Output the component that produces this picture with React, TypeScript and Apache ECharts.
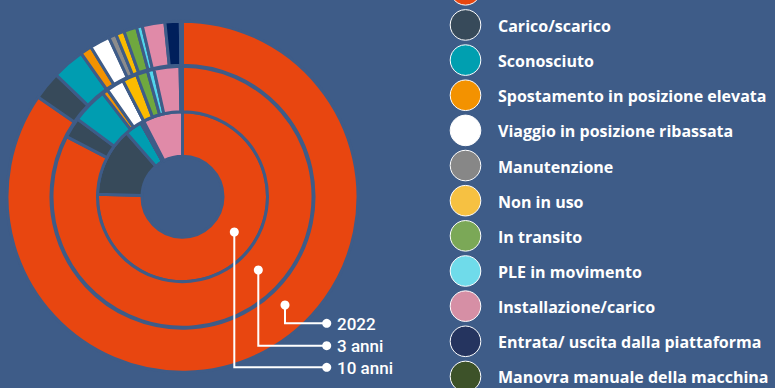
import React, { useEffect, useRef } from "react";
import * as echarts from "echarts";

const categories = [
  "Lavoro in quota",
  "Carico/scarico",
  "Sconosciuto",
  "Spostamento in posizione elevata",
  "Viaggio in posizione ribassata",
  "Manutenzione",
  "Non in uso",
  "In transito",
  "PLE in movimento",
  "Installazione/carico",
  "Entrata/ uscita dalla piattaforma",
  "Manovra manuale della macchina",
];

// percentages per ring
const values10anni = [75, 13, 3.3, 0, 0, 0, 0, 0.6, 0, 7.5, 0, 0];
const values3anni = [82.2, 2.5, 4.4, 0.7, 2.2, 0, 1.8, 1.4, 0.8, 3.2, 0.3, 0];
const values2022 = [84.6, 2.6, 3.0, 1.05, 1.85, 0.7, 0.78, 1.2, 0.53, 2.08, 1.4, 0.2];

const ringLabels = ["2022", "3 anni", "10 anni"];

const sliceColors = [
  "#e84610", "#374a5a", "#009db1", "#f39200", "#ffffff", "#8c8c8c",
  "#fbbb00", "#6fa83f", "#52d6ec", "#e08aa8", "#001f5b", "#3d5229",
];
const legendColors = [
  "#e84610", "#374a5a", "#009fb0", "#f39200", "#ffffff", "#878787",
  "#f6c142", "#7ba857", "#6fdbea", "#d68fa5", "#25345f", "#3d5229",
];

const BG = "#3e5c88";

export default function App() {
  const ref = useRef<HTMLDivElement>(null);
  useEffect(() => {
    if (!ref.current) return;
    const chart = echarts.init(ref.current, undefined, { renderer: "svg" });
    const cx = 182.5;
    const cy = 196.7;
    const mkData = (vals: number[]) =>
      categories.map((n, i) => ({ name: n, value: vals[i], itemStyle: { color: sliceColors[i] } }));
    const ring = (name: string, vals: number[], r: [number, number]) => ({
      type: "pie",
      name,
      center: [cx, cy],
      radius: r,
      startAngle: 90,
      clockwise: true,
      silent: true,
      label: { show: false },
      labelLine: { show: false },
      itemStyle: { borderColor: BG, borderWidth: 3 },
      emphasis: { disabled: true },
      data: mkData(vals),
    });

    const graphics: any[] = [];
    // legend
    const legTop = -10.2;
    const legStep = 35.15;
    categories.forEach((n, i) => {
      const y = legTop + i * legStep;
      graphics.push({
        type: "circle",
        z: 100,
        shape: { cx: 465.5, cy: y, r: 15.3 },
        style: { fill: legendColors[i], stroke: "#ffffff", lineWidth: 1 },
      });
      if (y > 0) {
        graphics.push({
          type: "text",
          z: 100,
          x: 498,
          y: y + 1,
          style: {
            text: n,
            fill: "#ffffff",
            font: "bold 16px 'Open Sans'",
            align: "left",
            verticalAlign: "middle",
          },
        });
      }
    });
    // leader lines
    const starts = [
      [285, 305],
      [258.3, 270],
      [234.3, 232],
    ];
    const endYs = [323.3, 345.7, 367.3];
    const endX = 326.7;
    ringLabels.forEach((lab, i) => {
      const [sx, sy] = starts[i];
      const ey = endYs[i];
      graphics.push({
        type: "polyline",
        z: 100,
        shape: { points: [[sx, sy], [sx, ey], [endX, ey]] },
        style: { stroke: "#ffffff", lineWidth: 2, fill: null },
      });
      graphics.push({ type: "circle", z: 101, shape: { cx: sx, cy: sy, r: 4.5 }, style: { fill: "#ffffff" } });
      graphics.push({ type: "circle", z: 101, shape: { cx: endX, cy: ey, r: 4.5 }, style: { fill: "#ffffff" } });
      graphics.push({
        type: "text",
        z: 101,
        x: 337,
        y: ey + 0.5,
        style: {
          text: lab,
          fill: "#ffffff",
          font: "500 17px Roboto",
          align: "left",
          verticalAlign: "middle",
        },
      });
    });

    chart.setOption({
      animation: false,
      backgroundColor: BG,
      series: [
        ring("10 anni", values10anni, [40.5, 85]),
        ring("3 anni", values3anni, [85, 130.5]),
        ring("2022", values2022, [131.5, 175.5]),
      ],
      graphic: graphics,
    });
    return () => chart.dispose();
  }, []);
  return (
    <div
      ref={ref}
      style={{ position: "fixed", left: 0, top: 0, width: 775, height: 388, background: BG }}
    />
  );
}
